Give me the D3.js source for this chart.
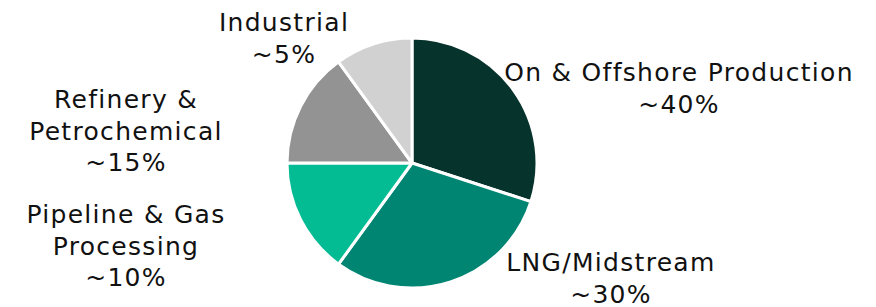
<!DOCTYPE html>
<html>
<head>
<meta charset="utf-8">
<script src="https://cdn.jsdelivr.net/npm/d3@7"></script>
<style>
  body { margin: 0; background: #fff; }
  text { font-family: "DejaVu Sans", "Noto Sans", sans-serif; fill: #111; }
</style>
</head>
<body>
<div id="chart"></div>
<script>
// slice values as drawn, labels as printed
var segments = ["On & Offshore Production", "LNG/Midstream", "Pipeline & Gas Processing", "Refinery & Petrochemical", "Industrial"];
var shares = [30, 30, 15, 15, 10];
var shareLabels = ["~40%", "~30%", "~10%", "~15%", "~5%"];
var colors = ["#07332d", "#008573", "#04bc94", "#939393", "#d1d1d1"];

// label lines and anchor (center x, first baseline)
var labelLines = [
    ["On & Offshore Production", "~40%"],
    ["LNG/Midstream", "~30%"],
    ["Pipeline & Gas", "Processing", "~10%"],
    ["Refinery &", "Petrochemical", "~15%"],
    ["Industrial", "~5%"]
];
var labelPos = [[679, 81], [611, 271], [126, 223], [126, 108], [284, 31]];

var width = 876;
var height = 307;
var cx = 412;
var cy = 163;
var radius = 125;

var svg = d3.select("#chart")
    .append("svg")
    .attr("width", width)
    .attr("height", height);

var pie = d3.pie()
    .sort(null)
    .value(function(d) { return d; });

var arc = d3.arc()
    .innerRadius(0)
    .outerRadius(radius);

var gPie = svg.append("g")
    .attr("transform", "translate(" + cx + "," + cy + ")");

gPie.selectAll("path")
    .data(pie(shares))
    .enter()
    .append("path")
    .attr("d", arc)
    .attr("fill", function(d, i) { return colors[i]; })
    .attr("stroke", "#fff")
    .attr("stroke-width", 3)
    .attr("stroke-linejoin", "round");

var gLabel = svg.append("g");
var label = gLabel.selectAll("text")
    .data(labelLines)
    .enter()
    .append("text")
    .attr("text-anchor", "middle")
    .attr("font-size", 25)
    .attr("letter-spacing", 1.3)
    .attr("x", function(d, i) { return labelPos[i][0]; })
    .attr("y", function(d, i) { return labelPos[i][1]; });

label.selectAll("tspan")
    .data(function(d) { return d; })
    .enter()
    .append("tspan")
    .attr("x", function() { return d3.select(this.parentNode).attr("x"); })
    .attr("dy", function(d, j) { return j == 0 ? 0 : 31.5; })
    .text(function(d) { return d; });
</script>
</body>
</html>
